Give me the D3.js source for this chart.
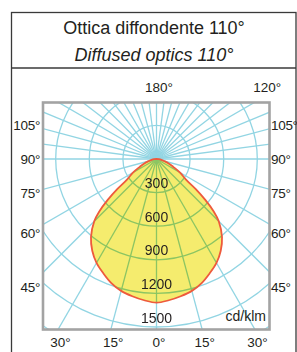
<!DOCTYPE html>
<html>
<head>
<meta charset="utf-8">
<script src="https://cdn.jsdelivr.net/npm/d3@7"></script>
<style>
  html, body { margin: 0; padding: 0; background: #fff; }
  svg { display: block; }
  text { font-family: "Liberation Sans", Arial, sans-serif; fill: #231f20; }
</style>
</head>
<body>
<svg id="chart" width="297" height="352"></svg>
<script>
// ---- data ----
const titleLines = ["Ottica diffondente 110°", "Diffused optics 110°"];
const unitLabel = "cd/klm";
// intensity curve (cd/klm) by angle from nadir (deg), symmetric
const curveAngles = [0, 5, 10, 15, 20, 25, 30, 35, 40, 45, 47.5, 50, 52.5, 55, 60, 65, 70, 75, 80, 85, 90];
const curveValues = [1283, 1266, 1244, 1219, 1179, 1125, 1071, 1000, 910, 786, 693, 571, 442, 322, 243, 163, 116, 71, 45, 22, 0];
// grid
const ringValues = [300, 600, 900, 1200, 1500, 1800, 2100];
const ringLabels = ["300", "600", "900", "1200", "1500"];
const radialAnglesLower = [0, 15, 30, 45, 60, 75, 90];
const radialAnglesUpper = [97.5, 105, 112.5, 120, 127.5, 135, 142.5, 150, 157.5, 165, 172.5, 180];
const sideTicks = ["105°", "90°", "75°", "60°", "45°"];
const sideTickAngles = [105, 90, 75, 60, 45];
const bottomTicks = ["30°", "15°", "0°", "15°", "30°"];
const bottomTickAngles = [-30, -15, 0, 15, 30];
const topTicks = ["180°", "120°"];
const topTickAngles = [180, 120];

// ---- layout ----
const svg = d3.select("#chart");
const frame = { x0: 43, y0: 102.5, x1: 269.5, y1: 329.5 };
const cx = 156.5, cy = 159;
const r = d3.scaleLinear().domain([0, 300]).range([0, 33.6]);
const rad = d => d * Math.PI / 180;
const tickSize = 13.5;

// outer box
svg.append("rect").attr("x", 11.5).attr("y", 12.5).attr("width", 284.5).attr("height", 360)
  .attr("fill", "none").attr("stroke", "#3a3a3a").attr("stroke-width", 1.3);
svg.append("line").attr("x1", 11.5).attr("x2", 296).attr("y1", 68).attr("y2", 68)
  .attr("stroke", "#3a3a3a").attr("stroke-width", 1.3);

svg.selectAll("text.title").data(titleLines).join("text")
  .attr("class", "title")
  .attr("x", 154).attr("y", (d, i) => 33.5 + i * 27)
  .attr("text-anchor", "middle")
  .attr("font-size", 18)
  .attr("font-style", (d, i) => i ? "italic" : "normal")
  .text(d => d);

// clip
svg.append("clipPath").attr("id", "clip").append("rect")
  .attr("x", frame.x0).attr("y", frame.y0)
  .attr("width", frame.x1 - frame.x0).attr("height", frame.y1 - frame.y0);

const plot = svg.append("g").attr("clip-path", "url(#clip)");
plot.append("rect").attr("x", frame.x0).attr("y", frame.y0)
  .attr("width", frame.x1 - frame.x0).attr("height", frame.y1 - frame.y0).attr("fill", "#fff");

const g = plot.append("g").attr("transform", `translate(${cx},${cy})`);

// grid
const grid = g.append("g").attr("stroke", "#92d5e3").attr("stroke-width", 1.3).attr("fill", "none");
grid.selectAll("circle").data(ringValues).join("circle").attr("r", d => r(d));
const lenR = 300;
const rl = [];
radialAnglesLower.concat(radialAnglesUpper).forEach(a => { rl.push(a); if (a !== 0 && a !== 180) rl.push(-a); });
grid.selectAll("line").data(rl).join("line")
  .attr("x1", 0).attr("y1", 0)
  .attr("x2", d => lenR * Math.sin(rad(d)))
  .attr("y2", d => lenR * Math.cos(rad(d)));

// curve
const pts = [];
for (let i = curveAngles.length - 1; i >= 0; i--) pts.push([-curveAngles[i], curveValues[i]]);
for (let i = 1; i < curveAngles.length; i++) pts.push([curveAngles[i], curveValues[i]]);
const line = d3.lineRadial()
  .angle(d => Math.PI - rad(d[0]))
  .radius(d => r(d[1]))
  .curve(d3.curveCatmullRomClosed);
g.append("path").datum(pts).attr("d", line)
  .attr("fill", "#f5ec6e").attr("style", "mix-blend-mode:multiply");
g.append("path").datum(pts).attr("d", line)
  .attr("fill", "none").attr("stroke", "#ee5a3c").attr("stroke-width", 1.8);

// ring labels
g.selectAll("text.ring").data(ringLabels).join("text")
  .attr("class", "ring")
  .attr("x", 0).attr("y", d => r(+d) - 4.5)
  .attr("text-anchor", "middle").attr("font-size", 14)
  .text(d => d);

// frame
svg.append("rect").attr("x", frame.x0).attr("y", frame.y0)
  .attr("width", frame.x1 - frame.x0).attr("height", frame.y1 - frame.y0)
  .attr("fill", "none").attr("stroke", "#a3a3a3").attr("stroke-width", 2.6);

// unit
svg.append("text").attr("x", 266).attr("y", 321).attr("text-anchor", "end")
  .attr("font-size", 14).text(unitLabel);

// side ticks
const D = 128;
sideTicks.forEach((t, i) => {
  const a = rad(sideTickAngles[i]);
  const y = cy + D * Math.cos(a) / Math.sin(a) + 5;
  svg.append("text").attr("x", frame.x0 - 3).attr("y", y).attr("text-anchor", "end")
    .attr("font-size", tickSize).attr("letter-spacing", -0.3).text(t);
  svg.append("text").attr("x", frame.x1 + 1.5).attr("y", y).attr("text-anchor", "start")
    .attr("font-size", tickSize).attr("letter-spacing", -0.3).text(t);
});
// bottom ticks
const H = frame.y1 - cy;
bottomTicks.forEach((t, i) => {
  const x = cx + H * Math.tan(rad(bottomTickAngles[i])) + 2.5;
  svg.append("text").attr("x", x).attr("y", 346.5).attr("text-anchor", "middle")
    .attr("font-size", tickSize).text(t);
});
// top ticks
topTicks.forEach((t, i) => {
  const a = rad(topTickAngles[i]);
  const R = 125;
  const x = cx + R * Math.sin(a) + 2.5;
  const y = frame.y0 - 11;
  svg.append("text").attr("x", x).attr("y", y).attr("text-anchor", "middle")
    .attr("font-size", tickSize).text(t);
});
</script>
</body>
</html>
